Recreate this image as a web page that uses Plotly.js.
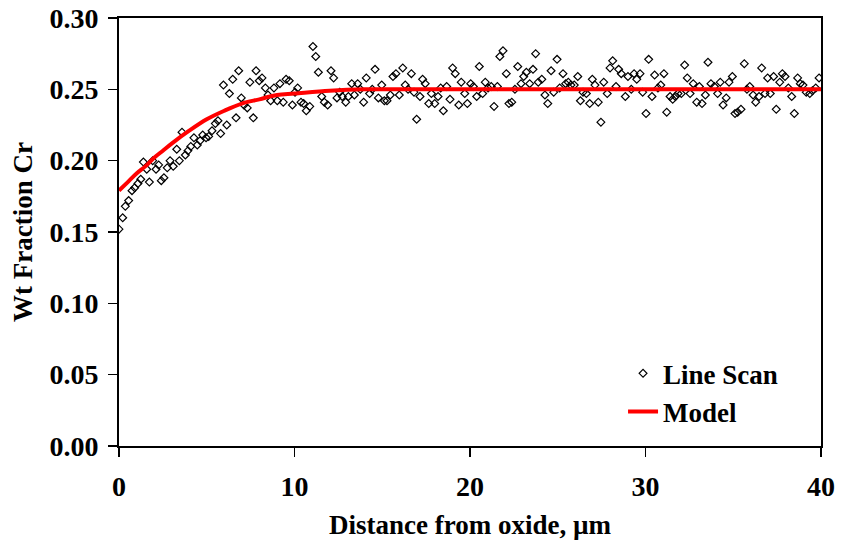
<!DOCTYPE html>
<html>
<head>
<meta charset="utf-8">
<script src="https://cdn.plot.ly/plotly-3.0.1.min.js"></script>
<style>html,body{margin:0;padding:0;background:#fff;}#chart{width:841px;height:548px;}</style>
</head>
<body>
<div id="chart"></div>
<script>
// Line scan data: distance (µm) and Cr weight fraction
const scanX = [
0.00,0.21,0.36,0.55,0.74,0.89,1.08,1.24,1.39,1.58,1.73,1.92,2.11,2.26,2.41,2.56,2.75,2.91,3.09,3.29,
3.44,3.59,3.78,3.93,4.09,4.27,4.46,4.62,4.77,4.96,5.11,5.30,5.49,5.64,5.79,5.95,6.14,6.29,6.48,6.67,
6.82,6.97,7.12,7.31,7.46,7.65,7.81,7.99,8.15,8.34,8.49,8.64,8.83,9.02,9.17,9.36,9.52,9.70,
9.88,10.03,10.18,10.37,10.52,10.67,10.87,11.05,11.21,11.36,11.55,11.70,11.89,12.08,12.23,12.42,12.58,12.72,12.92,13.07,
13.26,13.41,13.60,13.75,13.94,14.09,14.28,14.43,14.59,14.78,14.97,15.12,15.27,15.46,15.61,
15.78,15.97,16.17,16.31,16.47,16.66,16.81,16.96,17.15,17.30,17.45,17.65,17.80,17.99,18.18,18.33,18.48,18.67,18.86,19.01,
19.16,19.36,19.50,19.70,19.85,20.04,20.19,20.38,20.53,20.72,20.87,21.03,21.21,21.37,21.56,21.70,21.88,
22.07,22.22,22.38,22.56,22.72,22.91,23.06,23.21,23.40,23.59,23.74,23.89,24.09,24.27,24.43,24.62,24.77,24.96,25.11,25.30,
25.45,25.60,25.75,25.94,26.14,26.29,26.44,26.63,26.82,26.97,27.12,27.31,27.46,27.62,
27.82,27.98,28.13,28.32,28.47,28.62,28.85,29.00,29.19,29.35,29.50,29.69,29.84,30.03,30.18,30.37,30.52,30.71,30.87,31.05,
31.21,31.40,31.55,31.70,31.85,32.04,32.23,32.38,32.54,32.72,32.92,33.07,33.22,33.41,33.56,
33.73,33.92,34.11,34.26,34.42,34.60,34.76,34.95,35.10,35.25,35.44,35.63,35.78,35.94,36.13,36.28,36.47,36.62,36.81,36.96,
37.11,37.30,37.45,37.65,37.80,37.95,38.14,38.33,38.48,38.67,38.82,38.97,39.16,39.36,39.51,39.70,39.89
];
const scanY = [
0.152,0.160,0.168,0.172,0.179,0.181,0.184,0.187,0.199,0.194,0.185,0.200,0.194,0.197,0.186,0.188,0.195,0.200,0.196,0.208,
0.200,0.220,0.204,0.207,0.210,0.216,0.211,0.214,0.218,0.216,0.217,0.221,0.226,0.228,0.219,0.253,0.225,0.247,0.257,0.230,
0.263,0.244,0.239,0.237,0.255,0.230,0.263,0.256,0.258,0.251,0.246,0.242,0.251,0.242,0.254,0.241,0.257,0.256,
0.239,0.248,0.251,0.241,0.240,0.235,0.238,0.280,0.273,0.262,0.245,0.241,0.239,0.263,0.258,0.244,0.248,0.245,0.241,0.245,
0.254,0.246,0.254,0.250,0.241,0.258,0.247,0.250,0.264,0.244,0.253,0.242,0.242,0.246,0.259,
0.261,0.246,0.265,0.253,0.250,0.261,0.248,0.229,0.245,0.257,0.254,0.240,0.247,0.240,0.245,0.251,0.235,0.252,0.243,0.265,
0.261,0.239,0.255,0.247,0.240,0.254,0.252,0.245,0.266,0.247,0.255,0.251,0.252,0.238,0.252,0.273,0.277,
0.261,0.240,0.241,0.250,0.266,0.254,0.259,0.262,0.254,0.264,0.275,0.255,0.257,0.246,0.240,0.263,0.248,0.271,0.251,0.261,
0.254,0.255,0.253,0.253,0.259,0.242,0.248,0.247,0.240,0.257,0.253,0.241,0.227,0.255,
0.247,0.265,0.270,0.252,0.264,0.261,0.245,0.259,0.250,0.261,0.257,0.261,0.248,0.233,0.271,0.245,0.260,0.251,0.253,0.261,
0.234,0.245,0.243,0.245,0.247,0.247,0.267,0.258,0.247,0.254,0.241,0.252,0.240,0.246,0.269,
0.254,0.252,0.247,0.255,0.239,0.244,0.255,0.259,0.233,0.234,0.236,0.268,0.250,0.252,0.246,0.241,0.245,0.265,0.247,0.258,
0.247,0.259,0.236,0.255,0.261,0.259,0.251,0.245,0.233,0.258,0.254,0.253,0.248,0.247,0.249,0.251,0.258
];
// Model curve values
const modelX = [0,0.5,1,1.5,2,2.5,3,4,5,6,7,8,9,10,12,14,17,20,25,30,35,40];
const modelY = [0.179,0.185,0.191,0.196,0.202,0.207,0.212,0.221,0.229,0.235,0.240,0.243,0.246,0.247,0.249,0.250,0.250,0.250,0.250,0.250,0.250,0.250];

const xTicks = [0,10,20,30,40];
const yTicks = [0,0.05,0.10,0.15,0.20,0.25,0.30];

const FONT = 'Liberation Serif, Times New Roman, serif';

const traces = [
  {
    x: scanX, y: scanY, mode: 'markers', type: 'scatter', name: 'Line Scan',
    marker: {symbol: 'diamond-open', size: 6, color: '#000', line: {color: '#000', width: 1.2}}
  },
  {
    x: modelX, y: modelY, mode: 'lines', type: 'scatter', name: 'Model',
    line: {color: '#ff0000', width: 4, shape: 'spline', smoothing: 1}
  }
];

const layout = {
  width: 841, height: 548,
  margin: {l: 119, r: 20, t: 18, b: 102},
  paper_bgcolor: '#fff', plot_bgcolor: '#fff',
  font: {family: FONT, color: '#000'},
  showlegend: true,
  legend: {
    x: 0.718, y: 0.226, xanchor: 'left', yanchor: 'top',
    bgcolor: 'rgba(0,0,0,0)', borderwidth: 0,
    font: {family: FONT, size: 27, color: '#000', weight: 'bold'},
    tracegroupgap: 0
  },
  xaxis: {
    range: [0, 40], tickvals: xTicks, ticktext: xTicks.map(String),
    showgrid: false, zeroline: false,
    showline: true, linecolor: '#000', linewidth: 2, mirror: true,
    ticks: 'outside', ticklen: 9, tickwidth: 1.5, tickcolor: '#000',
    ticklabelstandoff: 5,
    tickfont: {family: FONT, size: 28, weight: 'bold'},
    title: {text: 'Distance from oxide, µm', font: {family: FONT, size: 27, weight: 'bold'}, standoff: 15}
  },
  yaxis: {
    range: [0, 0.30], tickvals: yTicks, ticktext: yTicks.map(v => v.toFixed(2)),
    showgrid: false, zeroline: false,
    showline: true, linecolor: '#000', linewidth: 2, mirror: true,
    ticks: 'outside', ticklen: 9, tickwidth: 1.5, tickcolor: '#000',
    ticklabelstandoff: 4,
    tickfont: {family: FONT, size: 28, weight: 'bold'},
    title: {text: 'Wt Fraction Cr', font: {family: FONT, size: 27, weight: 'bold'}, standoff: 9}
  }
};

Plotly.newPlot('chart', traces, layout, {displayModeBar: false, staticPlot: true});
</script>
</body>
</html>
